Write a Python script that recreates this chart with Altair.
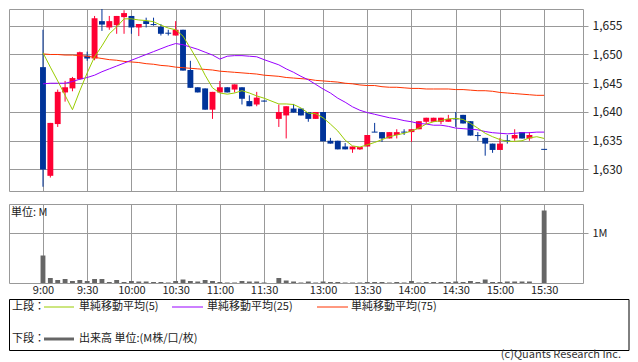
import altair as alt
import pandas as pd

FONT = "Noto Sans CJK JP"
RED, BLUE = "#ff0033", "#003399"
GREEN, PURPLE, ORANGE = "#99cc00", "#9900ff", "#ff3300"
GRID = "#999999"

# 5-minute slots: 0 = 9:00 ... 30 = 11:30, 32 = 12:30 ... 68 = 15:30
bar_idx = list(range(0, 31)) + list(range(32, 67)) + [68]
opens = [1647.8, 1628.9, 1637.9, 1643.4, 1644.1, 1645.7, 1649.8, 1649.3, 1655.8, 1654.7,
         1655.1, 1656.5, 1656.7, 1654.7, 1655.8, 1655.2, 1654.8, 1653.7, 1653.3, 1654.3,
         1647.3, 1644.3, 1644.1, 1640.4, 1643.4, 1644.3, 1643.9, 1644.3, 1641.9, 1641.3, 1641.9,
         1638.8, 1639.4, 1640.6, 1640.6, 1640.0, 1638.8, 1640.0, 1635.0, 1635.0, 1634.0,
         1633.5, 1633.5, 1634.0, 1636.5, 1636.5, 1635.4, 1636.0, 1636.5, 1636.5, 1637.0,
         1638.3, 1638.3, 1638.3, 1638.3, 1638.8, 1639.5, 1638.4, 1635.9, 1635.5, 1634.5,
         1633.4, 1635.0, 1635.4, 1636.5, 1635.4, 1633.5]
highs = [1654.3, 1638.1, 1643.9, 1645.4, 1646.1, 1650.5, 1650.5, 1656.7, 1658.3, 1656.7,
         1656.7, 1657.7, 1656.7, 1655.3, 1656.4, 1656.4, 1655.3, 1654.3, 1655.8, 1654.3,
         1648.9, 1644.3, 1644.1, 1643.5, 1645.4, 1644.3, 1644.8, 1644.3, 1642.9, 1643.5, 1642.0,
         1641.3, 1641.0, 1641.4, 1640.6, 1640.0, 1640.0, 1640.0, 1635.5, 1635.0, 1634.6,
         1634.0, 1633.9, 1636.0, 1638.1, 1636.5, 1636.5, 1637.0, 1637.0, 1637.0, 1638.4,
         1639.0, 1639.0, 1639.0, 1639.5, 1640.0, 1639.5, 1638.4, 1636.5, 1635.5, 1634.5,
         1635.5, 1636.0, 1637.0, 1636.5, 1636.5, 1633.5]
lows = [1627.0, 1628.6, 1637.4, 1641.8, 1643.6, 1645.6, 1648.9, 1649.0, 1654.1, 1654.3,
        1653.6, 1653.6, 1653.6, 1653.2, 1654.7, 1655.0, 1653.3, 1653.3, 1653.3, 1647.2,
        1644.2, 1643.4, 1640.4, 1638.8, 1643.4, 1643.4, 1643.4, 1641.3, 1641.0, 1641.0, 1641.8,
        1637.4, 1635.4, 1639.9, 1639.4, 1638.3, 1638.8, 1634.9, 1634.5, 1633.5, 1633.5,
        1632.9, 1633.4, 1634.0, 1636.5, 1634.8, 1635.4, 1635.4, 1636.0, 1634.8, 1637.0,
        1637.9, 1638.3, 1637.9, 1638.3, 1637.4, 1638.0, 1635.9, 1635.0, 1632.4, 1632.9,
        1633.4, 1634.5, 1635.0, 1635.4, 1635.0, 1633.5]
closes = [1630.0, 1638.1, 1643.5, 1644.3, 1645.9, 1650.4, 1649.3, 1656.3, 1655.2, 1655.8,
          1656.7, 1657.2, 1654.7, 1655.3, 1655.3, 1655.2, 1653.6, 1653.7, 1654.3, 1647.2,
          1644.2, 1643.4, 1640.4, 1643.5, 1644.3, 1643.4, 1644.8, 1642.3, 1641.0, 1642.5, 1641.9,
          1640.0, 1641.0, 1639.9, 1639.4, 1638.8, 1640.0, 1634.9, 1634.5, 1633.5, 1633.5,
          1634.0, 1633.9, 1636.0, 1636.5, 1635.4, 1636.5, 1636.5, 1636.5, 1637.0, 1638.4,
          1639.0, 1639.0, 1639.0, 1638.8, 1638.8, 1638.0, 1635.9, 1635.9, 1634.5, 1633.4,
          1634.5, 1635.0, 1636.0, 1635.4, 1636.0, 1633.5]
volumes = [0.55, 0.10, 0.06, 0.08, 0.04, 0.06, 0.04, 0.08, 0.08, 0.02,
           0.06, 0.02, 0.04, 0.03, 0.03, 0.02, 0.02, 0.01, 0.04, 0.07,
           0.04, 0.03, 0.06, 0.04, 0.02, 0.01, 0.01, 0.04, 0.03, 0.03, 0.01,
           0.10, 0.05, 0.03, 0.01, 0.03, 0.01, 0.03, 0.02, 0.02, 0.01,
           0.01, 0.01, 0.02, 0.02, 0.02, 0.01, 0.02, 0.01, 0.04, 0.01,
           0.02, 0.02, 0.02, 0.02, 0.03, 0.02, 0.04, 0.02, 0.07, 0.02,
           0.02, 0.03, 0.03, 0.03, 0.03, 1.45]

ma_idx = list(range(0, 31)) + list(range(32, 69))
ma5 = [1650.3, 1647.8, 1645.4, 1642.9, 1640.4, 1643.7, 1646.8, 1649.6, 1651.5, 1653.6,
       1654.8, 1656.2, 1656.2, 1656.0, 1655.9, 1655.7, 1655.1, 1654.6, 1654.3, 1653.2,
       1651.1, 1648.9, 1646.4, 1644.2, 1643.3, 1643.1, 1643.3, 1643.7, 1643.3, 1642.8, 1642.4,
       1641.4, 1641.4, 1641.3, 1640.7, 1639.8, 1639.7, 1639.0, 1637.9, 1636.7, 1635.1,
       1634.1, 1633.9, 1634.3, 1634.7, 1635.2, 1635.7, 1636.0, 1636.3, 1636.7, 1637.2,
       1637.9, 1638.3, 1638.5, 1638.8, 1638.9, 1638.7, 1638.0, 1637.2, 1636.3, 1635.7,
       1635.2, 1634.9, 1634.9, 1635.0, 1635.5, 1635.7, 1635.4]
ma25 = [1644.9, 1645.0, 1645.0, 1645.0, 1645.3, 1645.7, 1646.0, 1646.4, 1647.0, 1647.5,
        1648.0, 1648.5, 1649.0, 1649.5, 1650.0, 1650.5, 1651.0, 1651.5, 1651.9, 1651.7,
        1651.3, 1650.9, 1650.4, 1649.9, 1649.2, 1649.7, 1649.8, 1649.8, 1649.7, 1649.6, 1649.1,
        1648.2, 1647.5, 1646.9, 1646.2, 1645.6, 1644.8, 1644.0, 1643.3, 1642.4, 1641.7,
        1640.9, 1640.3, 1639.9, 1639.6, 1639.3, 1639.0, 1638.8, 1638.5, 1638.3, 1638.0,
        1637.9, 1637.7, 1637.7, 1637.5, 1637.2, 1637.1, 1637.0, 1636.9, 1636.6, 1636.4,
        1636.3, 1636.2, 1636.3, 1636.4, 1636.4, 1636.5, 1636.5]
ma75 = [1650.1, 1650.0, 1650.0, 1649.9, 1649.9, 1649.8, 1649.7, 1649.5, 1649.3, 1649.1,
        1649.0, 1648.8, 1648.7, 1648.6, 1648.4, 1648.3, 1648.1, 1648.0, 1647.8, 1647.7,
        1647.6, 1647.5, 1647.4, 1647.3, 1647.1, 1647.0, 1646.9, 1646.8, 1646.7, 1646.6, 1646.4,
        1646.2, 1646.0, 1645.9, 1645.8, 1645.7, 1645.5, 1645.4, 1645.3, 1645.2, 1645.0,
        1644.9, 1644.7, 1644.6, 1644.6, 1644.4, 1644.3, 1644.3, 1644.2, 1644.1, 1644.1,
        1644.0, 1644.0, 1644.0, 1644.0, 1643.9, 1643.9, 1643.8, 1643.7, 1643.7, 1643.6,
        1643.4, 1643.3, 1643.2, 1643.1, 1643.0, 1642.9, 1642.9]

tick_idx = [0, 6, 12, 18, 24, 30, 38, 44, 50, 56, 62, 68]
tick_labels = ["9:00", "9:30", "10:00", "10:30", "11:00", "11:30",
               "13:00", "13:30", "14:00", "14:30", "15:00", "15:30"]
price_ticks = [1630, 1635, 1640, 1645, 1650, 1655]
legend_labels = ["単純移動平均(5)", "単純移動平均(25)", "単純移動平均(75)"]

df = pd.DataFrame({"i": bar_idx, "o": opens, "h": highs, "l": lows, "c": closes, "v": volumes})
df["dir"] = ["up" if c > o else "down" for o, c in zip(opens, closes)]
ma_df = pd.DataFrame({"i": ma_idx, "ma5": ma5, "ma25": ma25, "ma75": ma75})

label_expr = "".join(f"datum.value == {v} ? '{t}' : " for v, t in zip(tick_idx, tick_labels)) + "''"

xscale = alt.Scale(domain=[-4.61, 73.27], nice=False, zero=False)
yscale = alt.Scale(domain=[1626.26, 1657.91], nice=False, zero=False)
vscale = alt.Scale(domain=[0, 1.58], nice=False, zero=False)

xaxis_top = alt.Axis(values=tick_idx, labels=False, ticks=False, domain=False, grid=True,
                     gridColor=GRID, title=None)
yaxis_top = alt.Axis(orient="right", values=price_ticks, format=",", grid=True, gridColor=GRID,
                     tickColor=GRID, tickSize=5, labelPadding=4, domain=False, title=None,
                     labelFont=FONT, labelFontSize=12, labelColor="#222222", labelOverlap=False)
color = alt.Color("dir:N", scale=alt.Scale(domain=["up", "down"], range=[RED, BLUE]), legend=None)

base = alt.Chart(df).transform_calculate(xl="datum.i - 0.4", xr="datum.i + 0.4")
wick = base.mark_rule(strokeWidth=1, clip=True).encode(
    x=alt.X("i:Q", scale=xscale, axis=xaxis_top),
    y=alt.Y("l:Q", scale=yscale, axis=yaxis_top), y2="h:Q", color=color)
body = base.mark_rect().encode(
    x=alt.X("xl:Q", scale=xscale, axis=xaxis_top), x2="xr:Q",
    y=alt.Y("o:Q", scale=yscale, axis=yaxis_top), y2="c:Q", color=color)
doji = base.transform_filter("datum.o == datum.c").mark_rule(strokeWidth=1).encode(
    x=alt.X("xl:Q", scale=xscale, axis=xaxis_top), x2="xr:Q",
    y=alt.Y("o:Q", scale=yscale, axis=yaxis_top), color=color)

def ma_line(field, col):
    return alt.Chart(ma_df).mark_line(color=col, strokeWidth=1).encode(
        x=alt.X("i:Q", scale=xscale, axis=xaxis_top),
        y=alt.Y(f"{field}:Q", scale=yscale, axis=yaxis_top))

top = alt.layer(wick, body, doji, ma_line("ma75", ORANGE), ma_line("ma25", PURPLE),
                ma_line("ma5", GREEN)).properties(width=574, height=182)

xaxis_vol = alt.Axis(values=tick_idx, labelExpr=label_expr, grid=True, gridColor=GRID,
                     ticks=False, domain=False, labelFont=FONT, labelFontSize=11,
                     labelColor="#222222", labelPadding=1, title=None, labelOverlap=False,
                     labelFlush=False)
yaxis_vol = alt.Axis(orient="right", values=[1], labelExpr="datum.value + 'M'", grid=True,
                     gridColor=GRID, tickColor=GRID, tickSize=5, labelPadding=4, domain=False,
                     title=None, labelFont=FONT, labelFontSize=11, labelColor="#222222")

vol = alt.Chart(df).transform_calculate(vl="datum.i - 0.33", vr="datum.i + 0.33", z="0").mark_rect(
    color="#666666").encode(
    x=alt.X("vl:Q", scale=xscale, axis=xaxis_vol), x2="vr:Q",
    y=alt.Y("v:Q", scale=vscale, axis=yaxis_vol), y2="z:Q")

one = alt.Data(values=[{"a": 1}])

def txt(s, x, y, align="left", col="#222222"):
    return alt.Chart(one).mark_text(align=align, baseline="middle", font=FONT, fontSize=11,
                                    color=col).encode(
        x=alt.value(x), y=alt.value(y), text=alt.value(s))

def seg(x1, x2, y, col, w):
    return alt.Chart(one).mark_rule(color=col, strokeWidth=w).encode(
        x=alt.value(x1), x2=alt.value(x2), y=alt.value(y))

box = alt.Chart(one).mark_rect(fillOpacity=0, stroke="#000000", strokeWidth=1).encode(
    x=alt.value(0.5), x2=alt.value(620), y=alt.value(95.5), y2=alt.value(146.5))

legend_layers = [
    box,
    txt("単位: M", 2, 9),
    txt("上段：", 3, 103),
    seg(35, 65, 103, GREEN, 1), txt(legend_labels[0], 70, 103),
    seg(163, 194, 103, PURPLE, 1), txt(legend_labels[1], 198, 103),
    seg(308, 339, 103, ORANGE, 1), txt(legend_labels[2], 342, 103),
    txt("下段：", 3, 135),
    seg(35, 65, 135, "#666666", 3), txt("出来高 単位:(M株/口/枚)", 70, 135),
    txt("(c)Quants Research Inc.", 612, 151, align="right", col="#333333"),
]

volume = alt.layer(vol, *legend_layers).properties(width=574, height=79)

chart = alt.vconcat(top, volume, spacing=11).properties(padding=0).configure(
    font=FONT).configure_view(stroke=GRID, strokeWidth=1)

chart.save("out.html", embed_options={"renderer": "svg", "actions": False})
